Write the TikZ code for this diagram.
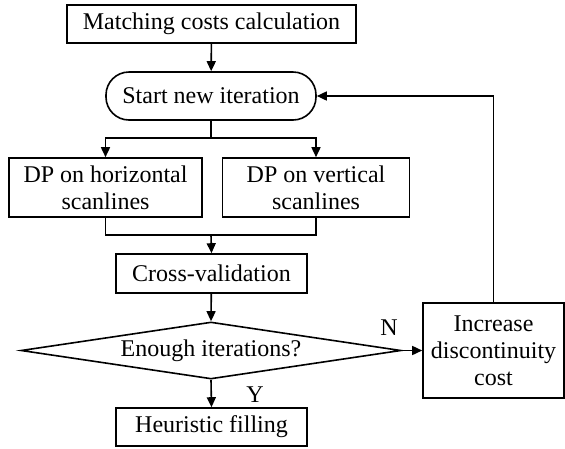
\documentclass[tikz,border=0pt]{standalone}
\usepackage{fontspec}
\setmainfont{Liberation Serif}
\usetikzlibrary{arrows.meta,shapes.geometric}
\begin{document}
\begin{tikzpicture}[x=1pt,y=-1pt,
  every node/.style={font=\fontsize{24}{27}\selectfont},
  box/.style={draw,line width=1.6pt,inner sep=0pt,align=center},
  rbox/.style={box,rounded corners=23pt},
  dia/.style={draw,line width=1.6pt,diamond,aspect=6.67,inner sep=0pt,minimum width=380pt,minimum height=57pt},
  conn/.style={line width=1.6pt},
  arr/.style={conn,-{Triangle[length=10pt,width=9pt]}},
  lbl/.style={inner sep=0pt}
]
\useasboundingbox (0,0) rectangle (565,448);
\node[box,minimum width=289pt,minimum height=38pt] (m) at (211.5,24) {Matching costs calculation};
\node[rbox,minimum width=210pt,minimum height=48pt] (s) at (211,96) {Start new iteration};
\node[box,minimum width=193pt,minimum height=59pt] (h) at (105.5,187.5) {DP on horizontal\\scanlines};
\node[box,minimum width=187pt,minimum height=59pt] (v) at (316,187.5) {DP on vertical\\scanlines};
\node[box,minimum width=191pt,minimum height=39pt] (c) at (211.5,273.5) {Cross-validation};
\node[dia] (d) at (211,350.5) {Enough iterations?};
\node[box,minimum width=191pt,minimum height=38pt] (f) at (211.5,427) {Heuristic filling};
\node[box,minimum width=141pt,minimum height=95pt] (i) at (493.5,350.5) {Increase\\discontinuity\\cost};
\coordinate (split) at (211,138);
\coordinate (join) at (211,235);
\draw[arr] (m) -- (s);
\draw[conn] (s) -- (split);
\draw[arr] (split) -| (h.north);
\draw[arr] (split) -| (v.north);
\draw[conn] (h.south) |- (join) -| (v.south);
\draw[arr] (join) -- (c.north);
\draw[arr] (c) -- (d.north);
\draw[arr] (d.south) -- (f.north);
\draw[arr] (d.east) -- (i.west);
\draw[arr] (i.north) |- (s.east);
\node[lbl] (ylab) at (255,395) {Y};
\node[lbl] (nlab) at (389,328) {N};
\end{tikzpicture}
\end{document}
